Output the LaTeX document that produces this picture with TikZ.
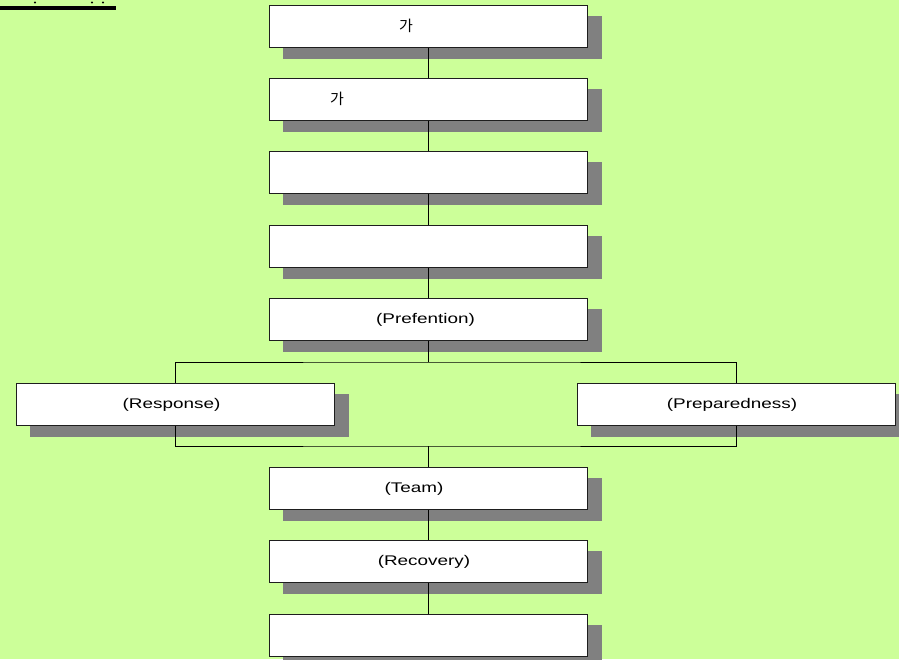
\documentclass[tikz,border=0pt]{standalone}
\usepackage{fontspec}
\setmainfont{Liberation Sans}[FakeStretch=1.35]
\newfontfamily\krfont{Noto Sans CJK KR}
\definecolor{pagegreen}{RGB}{204,255,153}
\definecolor{shadowgray}{RGB}{128,128,128}
\definecolor{edgegray}{RGB}{30,30,30}
\pgfdeclarelayer{paper}
\pgfdeclarelayer{shadows}
\pgfdeclarelayer{wires}
\pgfsetlayers{paper,shadows,wires,main}
\tikzset{
  stage/.style={draw=edgegray, line width=1pt, fill=white,
    minimum width=318pt, minimum height=42pt, inner sep=0pt,
    font=\fontsize{14}{16}\selectfont},
  sidestage/.style={stage},
  wire/.style={draw=black, line width=1pt},
  boxshadow/.style={fill=shadowgray},
  latinlabel/.style={font=\fontsize{14}{16}\selectfont, yshift=-1pt},
  krlabel/.style={font=\krfont\fontsize{15}{16}\selectfont},
}
\newcommand{\castshadow}[1]{%
  \fill[boxshadow] ([shift={(14,11)}]#1.south west) rectangle ([shift={(14,11)}]#1.north east);}
\begin{document}
\begin{tikzpicture}[x=1pt, y=-1pt]
  \useasboundingbox (0,0) rectangle (899,659);
  \begin{pgfonlayer}{paper}
    \fill[pagegreen] (0,0) rectangle (899,659);
  \end{pgfonlayer}

  % heading rule in the upper left corner
  \fill[black] (0,6) rectangle (116,10);
  \fill[black] (35,2.5) circle (1.2);
  \fill[black] (92,2.5) circle (1.2);
  \fill[black] (103,2.5) circle (1.2);

  % main column
  \node[stage, label={[xshift=-22pt, krlabel]center:가}] (s1) at (428,26) {};
  \node[stage, label={[xshift=-91pt, krlabel]center:가}] (s2) at (428,99) {};
  \node[stage] (s3) at (428,172.5) {};
  \node[stage] (s4) at (428,246) {};
  \node[stage, label={[xshift=-2.5pt, latinlabel]center:(Prefention)}] (prev) at (428,319) {};
  \node[sidestage, label={[xshift=-3.5pt, latinlabel]center:(Response)}] (resp) at (175,404) {};
  \node[sidestage, label={[xshift=-4pt, latinlabel]center:(Preparedness)}] (prep) at (736,404) {};
  \node[stage, label={[xshift=-14pt, latinlabel]center:(Team)}] (team) at (428,488) {};
  \node[stage, label={[xshift=-4pt, latinlabel]center:(Recovery)}] (reco) at (428,561) {};
  \node[stage] (s9) at (428,635) {};

  \coordinate (splitM) at (428,362);
  \coordinate (joinM) at (428,446);

  \begin{pgfonlayer}{shadows}
    \foreach \n in {s1,s2,s3,s4,prev,resp,prep,team,reco,s9} {\castshadow{\n}}
  \end{pgfonlayer}

  \begin{pgfonlayer}{wires}
    \draw[wire] (s1) -- (s2);
    \draw[wire] (s2) -- (s3);
    \draw[wire] (s3) -- (s4);
    \draw[wire] (s4) -- (prev);
    \draw[wire] (prev.south) -- (splitM);
    \draw[wire] (resp.north) |- (splitM) -| (prep.north);
    \draw[wire] (resp.south) |- (joinM) -| (prep.south);
    \draw[wire] (joinM) -- (team.north);
    \draw[wire] (team) -- (reco);
    \draw[wire] (reco) -- (s9);
  \end{pgfonlayer}
\end{tikzpicture}
\end{document}
